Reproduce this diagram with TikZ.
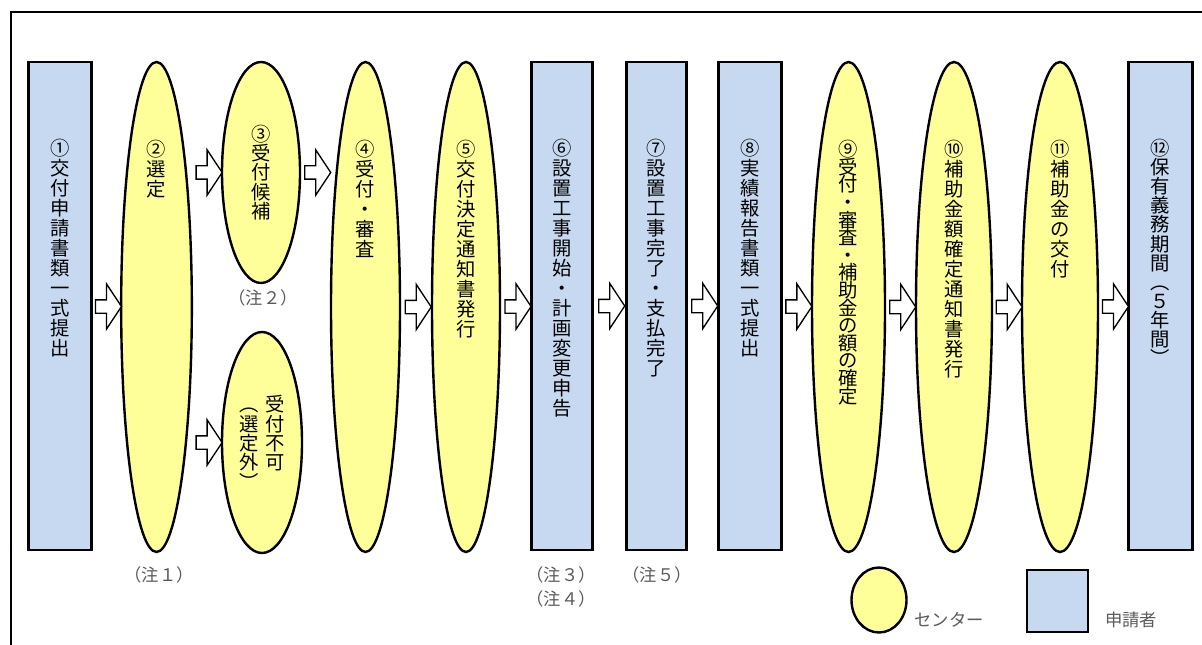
\documentclass[tikz,border=0pt]{standalone}
\usepackage{fontspec}
\newfontfamily\jp{Noto Sans CJK JP}
\usetikzlibrary{shapes.geometric,shapes.arrows,calc}

\definecolor{cyel}{RGB}{255,255,153}
\definecolor{cblu}{RGB}{198,217,240}
\definecolor{cnote}{RGB}{90,90,90}

% one character per line, top to bottom
\newcommand\vcol[1]{\vcolnext#1\relax}
\def\vcolnext#1{\ifx#1\relax\else\hbox to 1em{\hss#1\hss}\expandafter\vcolnext\fi}
\newcommand\vtall[2][15pt]{\parbox[c][250pt][t]{1em}{\fontsize{14.5pt}{#1}\selectfont\lineskiplimit=-50pt\vcol{#2}}}
\newcommand\vshort[1]{\parbox[t]{1em}{\fontsize{14.5pt}{14.5pt}\selectfont\lineskiplimit=-50pt\vcol{#1}}}

\begin{document}
\begin{tikzpicture}[x=.75pt,y=-.75pt,
    every node/.style={font=\jp,inner sep=0pt},
    centre/.style={ellipse,draw,line width=1.8pt,fill=cyel,minimum height=367.5pt},
    appl/.style={rectangle,draw,line width=1.8pt,fill=cblu,minimum height=366pt,minimum width=47pt},
    flow/.style={single arrow,draw,fill=white,line width=1pt,minimum height=19.5pt,inner sep=4.5pt,
      single arrow head extend=12pt,single arrow tip angle=113,single arrow head indent=0pt},
    note/.style={text=cnote,font=\jp\fontsize{13pt}{15pt}\selectfont}]
  \useasboundingbox (0,0) rectangle (1202,645);
  \draw[line width=1.5pt] (11,645) -- (11,12) -- (1202,12);

  \node[appl] (n1) at (60,306) {\vtall{①交付申請書類一式提出}};
  \node[centre,minimum width=53pt] (n2) at (156.5,307) {\vtall{②選定}};
  \node[centre,minimum width=58.5pt,minimum height=165.75pt] (n3) at (261,172.5) {\vshort{③受付候補}};
  \node[centre,minimum width=60pt,minimum height=165.75pt] (n3b) at (262,442.5)
    {\hbox{\vshort{︵選定外︶}\hspace{5pt}\vshort{受付不可}}};
  \node[centre,minimum width=51.75pt] (n4) at (365.5,307) {\vtall{④受付・審査}};
  \node[centre,minimum width=51pt] (n5) at (466,307) {\vtall{⑤交付決定通知書発行}};
  \node[appl,minimum width=45.5pt] (n6) at (562,306) {\vtall{⑥設置工事開始・計画変更申告}};
  \node[appl,minimum width=44.75pt] (n7) at (656.5,306) {\vtall{⑦設置工事完了・支払完了}};
  \node[appl] (n8) at (750,306) {\vtall{⑧実績報告書類一式提出}};
  \node[centre,minimum width=54.75pt] (n9) at (848.5,307) {\vtall[13.2pt]{⑨受付・審査・補助金の額の確定}};
  \node[centre,minimum width=57pt] (n10) at (954,307) {\vtall{⑩補助金額確定通知書発行}};
  \node[centre,minimum width=57pt] (n11) at (1060,307) {\vtall{⑪補助金の交付}};
  \node[appl,minimum width=48pt] (n12) at (1160.5,306) {\vtall[14.3pt]{⑫保有義務期間︵５年間︶}};

  % hollow arrows between the steps
  \node[flow] (a1) at ($(n1.east)!.5!(n2.west)$) {};
  \node[flow] (a2) at ($(n2.east |- n3)!.5!(n3.west)$) {};
  \node[flow] (a2b) at ($(n2.east |- n3b)!.5!(n3b.west)$) {};
  \node[flow] (a3) at ($(n3.east)!.5!(n4.west |- n3)$) {};
  \node[flow] (a4) at ($(n4.east)!.5!(n5.west)$) {};
  \node[flow] (a5) at ($(n5.east)!.5!(n6.west)$) {};
  \node[flow] (a6) at ($(n6.east)!.5!(n7.west)$) {};
  \node[flow] (a7) at ($(n7.east)!.5!(n8.west)$) {};
  \node[flow] (a8) at ($(n8.east)!.5!(n9.west)$) {};
  \node[flow] (a9) at ($(n9.east)!.5!(n10.west)$) {};
  \node[flow] (a10) at ($(n10.east)!.5!(n11.west)$) {};
  \node[flow] (a11) at ($(n11.east)!.5!(n12.west)$) {};

  \node[note] (c1) at (159,575) {（注１）};
  \node[note] (c2) at (263,298) {（注２）};
  \node[note] (c3) at (561,575) {（注３）};
  \node[note] (c4) at (561,599) {（注４）};
  \node[note] (c5) at (657,575) {（注５）};

  % legend
  \node[ellipse,draw,line width=1.8pt,fill=cyel,minimum width=41.25pt,minimum height=48.75pt] (lc) at (879,600) {};
  \node[note] (lct) at (949,620) {センター};
  \node[rectangle,draw,line width=1.8pt,fill=cblu,minimum width=46pt,minimum height=46.5pt] (lr) at (1057.5,601) {};
  \node[note] (lrt) at (1131,620) {申請者};
\end{tikzpicture}
\end{document}
